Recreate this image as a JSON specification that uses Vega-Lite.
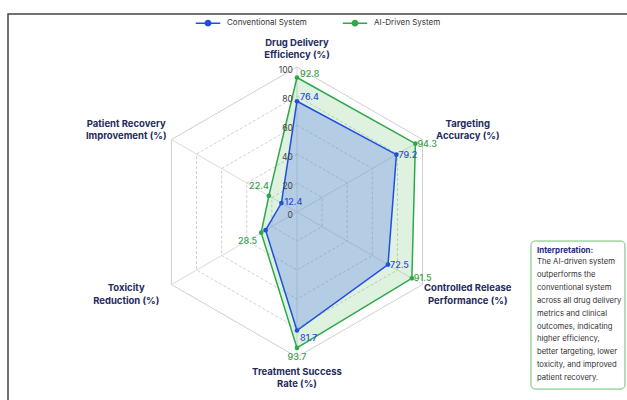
{
  "$schema": "https://vega.github.io/schema/vega-lite/v6.json",
  "width": 640,
  "height": 400,
  "padding": {"left": 8, "top": 10, "right": 0, "bottom": 0},
  "background": "white",
  "config": {
    "font": "Inter",
    "view": {"stroke": "#444", "strokeWidth": 1.5}
  },
  "datasets": {
    "metrics": [
      {"i": 0, "metric": "Drug Delivery\nEfficiency (%)"},
      {"i": 1, "metric": "Targeting\nAccuracy (%)"},
      {"i": 2, "metric": "Controlled Release\nPerformance (%)"},
      {"i": 3, "metric": "Treatment Success\nRate (%)"},
      {"i": 4, "metric": "Toxicity\nReduction (%)"},
      {"i": 5, "metric": "Patient Recovery\nImprovement (%)"}
    ],
    "scores": [
      {"i": 0, "system": "Conventional System", "value": 76.4},
      {"i": 1, "system": "Conventional System", "value": 79.2},
      {"i": 2, "system": "Conventional System", "value": 72.5},
      {"i": 3, "system": "Conventional System", "value": 81.7},
      {"i": 4, "system": "Conventional System", "value": 25.0},
      {"i": 5, "system": "Conventional System", "value": 12.4},
      {"i": 0, "system": "AI-Driven System", "value": 92.8},
      {"i": 1, "system": "AI-Driven System", "value": 94.3},
      {"i": 2, "system": "AI-Driven System", "value": 91.5},
      {"i": 3, "system": "AI-Driven System", "value": 93.7},
      {"i": 4, "system": "AI-Driven System", "value": 28.5},
      {"i": 5, "system": "AI-Driven System", "value": 22.4}
    ],
    "levels": [
      {"level": 0, "i": []},
      {"level": 20, "i": [0, 1, 2, 3, 4, 5]},
      {"level": 40, "i": [0, 1, 2, 3, 4, 5]},
      {"level": 60, "i": [0, 1, 2, 3, 4, 5]},
      {"level": 80, "i": [0, 1, 2, 3, 4, 5]},
      {"level": 100, "i": [0, 1, 2, 3, 4, 5]}
    ],
    "note": [
      {"title": "Interpretation:", "body": "The AI-driven system\noutperforms the\nconventional system\nacross all drug delivery\nmetrics and clinical\noutcomes, indicating\nhigher efficiency,\nbetter targeting, lower\ntoxicity, and improved\npatient recovery."}
    ]
  },
  "encoding": {
    "x": {"field": "x", "type": "quantitative", "scale": {"domain": [-199.3, 242.1], "nice": false, "zero": false}, "axis": null},
    "y": {"field": "y", "type": "quantitative", "scale": {"domain": [-139.3, 136.6], "nice": false, "zero": false}, "axis": null}
  },
  "layer": [
    {
      "data": {"name": "levels"},
      "transform": [
        {"filter": "datum.level > 0 && datum.level < 100"},
        {"flatten": ["i"]},
        {"calculate": "PI/2 - datum.i*PI/3", "as": "a"},
        {"calculate": "datum.level*cos(datum.a)", "as": "x"},
        {"calculate": "datum.level*sin(datum.a)", "as": "y"}
      ],
      "mark": {"type": "line", "interpolate": "linear-closed", "stroke": "#c4c4c4", "strokeWidth": 0.8, "strokeDash": [3, 2]},
      "encoding": {
        "detail": {"field": "level", "type": "nominal"},
        "order": {"field": "i", "type": "quantitative"}
      }
    },
    {
      "data": {"name": "levels"},
      "transform": [
        {"filter": "datum.level == 100"},
        {"flatten": ["i"]},
        {"calculate": "PI/2 - datum.i*PI/3", "as": "a"},
        {"calculate": "datum.level*cos(datum.a)", "as": "x"},
        {"calculate": "datum.level*sin(datum.a)", "as": "y"}
      ],
      "mark": {"type": "line", "interpolate": "linear-closed", "stroke": "#cfcfcf", "strokeWidth": 1},
      "encoding": {
        "order": {"field": "i", "type": "quantitative"}
      }
    },
    {
      "data": {"name": "metrics"},
      "transform": [
        {"calculate": "PI/2 - datum.i*PI/3", "as": "a"},
        {"calculate": "100*cos(datum.a)", "as": "x"},
        {"calculate": "100*sin(datum.a)", "as": "y"}
      ],
      "mark": {"type": "rule", "stroke": "#d0d0d0", "strokeWidth": 0.8},
      "encoding": {
        "x2": {"datum": 0},
        "y2": {"datum": 0}
      }
    },
    {
      "data": {"name": "scores"},
      "transform": [
        {"filter": "datum.system == 'AI-Driven System'"},
        {"calculate": "PI/2 - datum.i*PI/3", "as": "a"},
        {"calculate": "datum.value*cos(datum.a)", "as": "x"},
        {"calculate": "datum.value*sin(datum.a)", "as": "y"}
      ],
      "mark": {"type": "line", "interpolate": "linear-closed", "fill": "#4caf50", "fillOpacity": 0.18, "strokeWidth": 1.5},
      "encoding": {
        "color": {
          "field": "system", "type": "nominal",
          "scale": {"domain": ["Conventional System", "AI-Driven System"], "range": ["#1f4fe0", "#2ea84a"]},
          "legend": {
            "title": null, "orient": "none", "direction": "horizontal", "legendX": 187, "legendY": -4,
            "padding": 0, "symbolType": "M-1,0L1,0M-0.22,0A0.22,0.22,0,1,0,0.22,0A0.22,0.22,0,1,0,-0.22,0Z",
            "symbolSize": 600, "symbolStrokeWidth": 1.5, "labelOffset": 6, "columnPadding": 32,
            "labelFontSize": 8, "labelColor": "#333",
            "encode": {"symbols": {"update": {"fill": {"signal": "scale('color', datum.value)"}, "stroke": {"signal": "scale('color', datum.value)"}, "opacity": {"value": 1}}}}
          }
        },
        "order": {"field": "i", "type": "quantitative"}
      }
    },
    {
      "data": {"name": "scores"},
      "transform": [
        {"filter": "datum.system == 'Conventional System'"},
        {"calculate": "PI/2 - datum.i*PI/3", "as": "a"},
        {"calculate": "datum.value*cos(datum.a)", "as": "x"},
        {"calculate": "datum.value*sin(datum.a)", "as": "y"}
      ],
      "mark": {"type": "line", "interpolate": "linear-closed", "fill": "#5a84ee", "fillOpacity": 0.32, "strokeWidth": 1.5},
      "encoding": {
        "color": {"field": "system", "type": "nominal", "scale": {"domain": ["Conventional System", "AI-Driven System"], "range": ["#1f4fe0", "#2ea84a"]}},
        "order": {"field": "i", "type": "quantitative"}
      }
    },
    {
      "data": {"name": "scores"},
      "transform": [
        {"calculate": "PI/2 - datum.i*PI/3", "as": "a"},
        {"calculate": "datum.value*cos(datum.a)", "as": "x"},
        {"calculate": "datum.value*sin(datum.a)", "as": "y"}
      ],
      "mark": {"type": "point", "filled": true, "size": 22, "opacity": 1},
      "encoding": {
        "color": {"field": "system", "type": "nominal", "scale": {"domain": ["Conventional System", "AI-Driven System"], "range": ["#1f4fe0", "#2ea84a"]}}
      }
    },
    {
      "data": {"name": "levels"},
      "transform": [
        {"calculate": "0", "as": "x"},
        {"calculate": "datum.level", "as": "y"}
      ],
      "mark": {"type": "text", "align": "right", "baseline": "middle", "dx": -4, "dy": 3, "fontSize": 8.5, "fill": "#444"},
      "encoding": {
        "text": {"field": "level", "type": "quantitative"}
      }
    },
    {
      "data": {"name": "scores"},
      "transform": [
        {"filter": "datum.i == 0"},
        {"calculate": "PI/2 - datum.i*PI/3", "as": "a"},
        {"calculate": "datum.value*cos(datum.a)", "as": "x"},
        {"calculate": "datum.value*sin(datum.a)", "as": "y"}
      ],
      "mark": {"type": "text", "align": "left", "baseline": "middle", "dx": 3, "dy": -4, "fontSize": 9, "fontWeight": 500},
      "encoding": {
        "text": {"field": "value", "type": "quantitative", "format": ".1f"},
        "color": {"condition": {"test": "datum.system == 'AI-Driven System'", "value": "#35a14a"}, "value": "#2a4fd6"}
      }
    },
    {
      "data": {"name": "scores"},
      "transform": [
        {"filter": "datum.i == 1 || datum.i == 2"},
        {"calculate": "PI/2 - datum.i*PI/3", "as": "a"},
        {"calculate": "datum.value*cos(datum.a)", "as": "x"},
        {"calculate": "datum.value*sin(datum.a)", "as": "y"}
      ],
      "mark": {"type": "text", "align": "left", "baseline": "middle", "dx": 2, "dy": 0, "fontSize": 9, "fontWeight": 500},
      "encoding": {
        "text": {"field": "value", "type": "quantitative", "format": ".1f"},
        "color": {"condition": {"test": "datum.system == 'AI-Driven System'", "value": "#35a14a"}, "value": "#2a4fd6"}
      }
    },
    {
      "data": {"name": "scores"},
      "transform": [
        {"filter": "datum.system == 'Conventional System' && datum.i == 3"},
        {"calculate": "PI/2 - datum.i*PI/3", "as": "a"},
        {"calculate": "datum.value*cos(datum.a)", "as": "x"},
        {"calculate": "datum.value*sin(datum.a)", "as": "y"}
      ],
      "mark": {"type": "text", "align": "left", "baseline": "middle", "dx": 3, "dy": 8, "fontSize": 9, "fontWeight": 500, "fill": "#2a4fd6"},
      "encoding": {
        "text": {"field": "value", "type": "quantitative", "format": ".1f"}
      }
    },
    {
      "data": {"name": "scores"},
      "transform": [
        {"filter": "datum.system == 'Conventional System' && datum.i == 5"},
        {"calculate": "PI/2 - datum.i*PI/3", "as": "a"},
        {"calculate": "datum.value*cos(datum.a)", "as": "x"},
        {"calculate": "datum.value*sin(datum.a)", "as": "y"}
      ],
      "mark": {"type": "text", "align": "left", "baseline": "middle", "dx": 3, "dy": -1, "fontSize": 9, "fontWeight": 500, "fill": "#2a4fd6"},
      "encoding": {
        "text": {"field": "value", "type": "quantitative", "format": ".1f"}
      }
    },
    {
      "data": {"name": "scores"},
      "transform": [
        {"filter": "datum.system == 'AI-Driven System' && datum.i == 3"},
        {"calculate": "PI/2 - datum.i*PI/3", "as": "a"},
        {"calculate": "datum.value*cos(datum.a)", "as": "x"},
        {"calculate": "datum.value*sin(datum.a)", "as": "y"}
      ],
      "mark": {"type": "text", "align": "center", "baseline": "middle", "dy": 9, "fontSize": 9, "fontWeight": 500, "fill": "#35a14a"},
      "encoding": {
        "text": {"field": "value", "type": "quantitative", "format": ".1f"}
      }
    },
    {
      "data": {"name": "scores"},
      "transform": [
        {"filter": "datum.system == 'AI-Driven System' && datum.i == 4"},
        {"calculate": "PI/2 - datum.i*PI/3", "as": "a"},
        {"calculate": "datum.value*cos(datum.a)", "as": "x"},
        {"calculate": "datum.value*sin(datum.a)", "as": "y"}
      ],
      "mark": {"type": "text", "align": "right", "baseline": "middle", "dx": -4, "dy": 8, "fontSize": 9, "fontWeight": 500, "fill": "#35a14a"},
      "encoding": {
        "text": {"field": "value", "type": "quantitative", "format": ".1f"}
      }
    },
    {
      "data": {"name": "scores"},
      "transform": [
        {"filter": "datum.system == 'AI-Driven System' && datum.i == 5"},
        {"calculate": "PI/2 - datum.i*PI/3", "as": "a"},
        {"calculate": "datum.value*cos(datum.a)", "as": "x"},
        {"calculate": "datum.value*sin(datum.a)", "as": "y"}
      ],
      "mark": {"type": "text", "align": "right", "baseline": "middle", "dx": 0, "dy": -10, "fontSize": 9, "fontWeight": 500, "fill": "#35a14a"},
      "encoding": {
        "text": {"field": "value", "type": "quantitative", "format": ".1f"}
      }
    },
    {
      "data": {"name": "metrics"},
      "transform": [
        {"calculate": "PI/2 - datum.i*PI/3", "as": "a"},
        {"calculate": "136*cos(datum.a)", "as": "x"},
        {"calculate": "(sin(datum.a) > 0 ? 112 : 115)*sin(datum.a)", "as": "y"}
      ],
      "mark": {"type": "text", "align": "center", "baseline": "middle", "dy": -7, "lineBreak": "\n", "lineHeight": 12.5, "fontSize": 9.5, "fontWeight": "bold", "fill": "#252b5e"},
      "encoding": {
        "text": {"field": "metric", "type": "nominal"}
      }
    },
    {
      "data": {"name": "note"},
      "transform": [
        {"calculate": "161.4", "as": "x"},
        {"calculate": "226.2", "as": "x2"},
        {"calculate": "-20", "as": "y"},
        {"calculate": "-122.1", "as": "y2"}
      ],
      "mark": {"type": "rect", "cornerRadius": 4, "fill": "white", "stroke": "#6cc070", "strokeWidth": 1},
      "encoding": {
        "x2": {"field": "x2"},
        "y2": {"field": "y2"}
      }
    },
    {
      "data": {"name": "note"},
      "transform": [
        {"calculate": "165.5", "as": "x"},
        {"calculate": "-26.9", "as": "y"}
      ],
      "mark": {"type": "text", "align": "left", "baseline": "middle", "fontSize": 8, "fontWeight": "bold", "fill": "#1e2a78"},
      "encoding": {
        "text": {"field": "title", "type": "nominal"}
      }
    },
    {
      "data": {"name": "note"},
      "transform": [
        {"calculate": "165.5", "as": "x"},
        {"calculate": "-31.7", "as": "y"}
      ],
      "mark": {"type": "text", "align": "left", "baseline": "top", "lineBreak": "\n", "lineHeight": 12.9, "fontSize": 7.7, "fill": "#333"},
      "encoding": {
        "text": {"field": "body", "type": "nominal"}
      }
    }
  ]
}
